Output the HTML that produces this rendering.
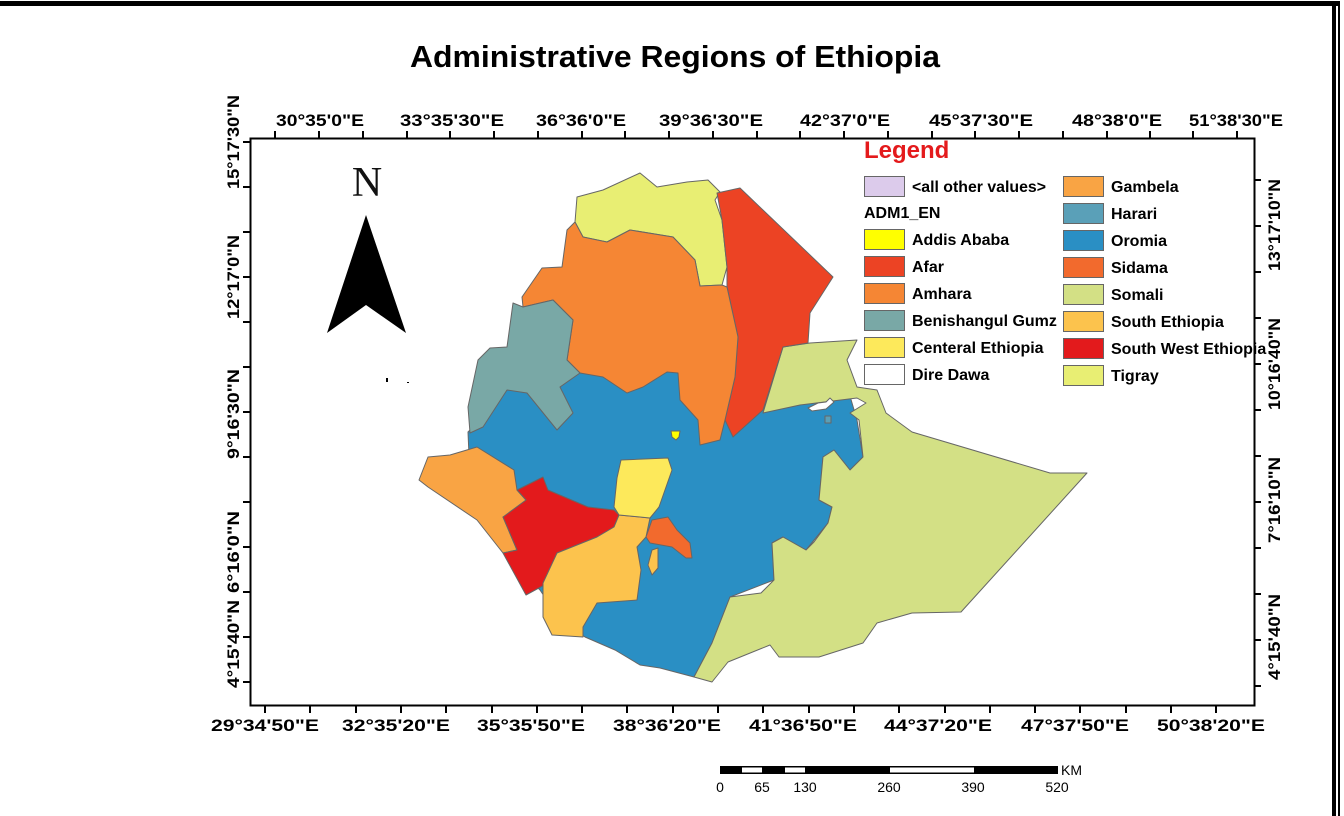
<!DOCTYPE html>
<html><head><meta charset="utf-8"><style>
html,body{margin:0;padding:0;background:#fff;}
svg{display:block;}
text{font-family:"Liberation Sans",Arial,sans-serif;}
.t{font-size:17px;font-weight:bold;fill:#000;}
.lg{font-size:16px;font-weight:bold;fill:#000;}
</style></head><body>
<svg width="1344" height="816" viewBox="0 0 1344 816" xmlns="http://www.w3.org/2000/svg">
<rect width="1344" height="816" fill="#fff"/>
<rect x="0" y="1" width="1340" height="5" fill="#000"/>
<rect x="1332" y="1" width="4" height="815" fill="#000"/>
<rect x="1338" y="1" width="2" height="815" fill="#000"/>

<text x="675" y="67" text-anchor="middle" textLength="530" lengthAdjust="spacingAndGlyphs" style="font-size:31px;font-weight:bold">Administrative Regions of Ethiopia</text>

<rect x="250.5" y="138.5" width="1004" height="567" fill="none" stroke="#000" stroke-width="2"/>
<g stroke="#000" stroke-width="2">
<path d="M275 138v-7M319 138v-7M363 138v-7M407 138v-7M450 138v-7M494 138v-7M538 138v-7M582 138v-7M625 138v-7M669 138v-7M713 138v-7M757 138v-7M800 138v-7M844 138v-7M888 138v-7M932 138v-7M975 138v-7M1019 138v-7M1063 138v-7M1107 138v-7M1150 138v-7M1193 138v-7M1237 138v-7"/>
<path d="M265 706v7M310 706v7M356 706v7M401 706v7M446 706v7M492 706v7M537 706v7M582 706v7M627 706v7M673 706v7M718 706v7M763 706v7M809 706v7M854 706v7M899 706v7M945 706v7M990 706v7M1035 706v7M1080 706v7M1126 706v7M1171 706v7M1216 706v7"/>
<path d="M250 142h-7M250 187h-7M250 232h-7M250 277h-7M250 322h-7M250 367h-7M250 412h-7M250 457h-7M250 502h-7M250 547h-7M250 592h-7M250 637h-7M250 682h-7"/>
<path d="M1254 180h7M1254 226h7M1254 272h7M1254 318h7M1254 364h7M1254 410h7M1254 456h7M1254 502h7M1254 548h7M1254 594h7M1254 640h7M1254 686h7"/>
</g>
<g text-anchor="middle">
<text x="320" y="126" class="t" textLength="88" lengthAdjust="spacingAndGlyphs">30°35'0"E</text>
<text x="452" y="126" class="t" textLength="104" lengthAdjust="spacingAndGlyphs">33°35'30"E</text>
<text x="581" y="126" class="t" textLength="90" lengthAdjust="spacingAndGlyphs">36°36'0"E</text>
<text x="711" y="126" class="t" textLength="104" lengthAdjust="spacingAndGlyphs">39°36'30"E</text>
<text x="845" y="126" class="t" textLength="90" lengthAdjust="spacingAndGlyphs">42°37'0"E</text>
<text x="981" y="126" class="t" textLength="104" lengthAdjust="spacingAndGlyphs">45°37'30"E</text>
<text x="1117" y="126" class="t" textLength="90" lengthAdjust="spacingAndGlyphs">48°38'0"E</text>
<text x="1236" y="126" class="t" textLength="94" lengthAdjust="spacingAndGlyphs">51°38'30"E</text>
</g>
<g text-anchor="middle">
<text x="265" y="731" class="t" textLength="108" lengthAdjust="spacingAndGlyphs">29°34'50"E</text>
<text x="396" y="731" class="t" textLength="108" lengthAdjust="spacingAndGlyphs">32°35'20"E</text>
<text x="531" y="731" class="t" textLength="108" lengthAdjust="spacingAndGlyphs">35°35'50"E</text>
<text x="667" y="731" class="t" textLength="108" lengthAdjust="spacingAndGlyphs">38°36'20"E</text>
<text x="803" y="731" class="t" textLength="108" lengthAdjust="spacingAndGlyphs">41°36'50"E</text>
<text x="938" y="731" class="t" textLength="108" lengthAdjust="spacingAndGlyphs">44°37'20"E</text>
<text x="1075" y="731" class="t" textLength="108" lengthAdjust="spacingAndGlyphs">47°37'50"E</text>
<text x="1211" y="731" class="t" textLength="108" lengthAdjust="spacingAndGlyphs">50°38'20"E</text>
</g>
<g text-anchor="middle">
<text class="t" transform="translate(239,142) rotate(-90)" textLength="94" lengthAdjust="spacingAndGlyphs">15°17'30"N</text>
<text class="t" transform="translate(239,277) rotate(-90)" textLength="84" lengthAdjust="spacingAndGlyphs">12°17'0"N</text>
<text class="t" transform="translate(239,414) rotate(-90)" textLength="90" lengthAdjust="spacingAndGlyphs">9°16'30"N</text>
<text class="t" transform="translate(239,552) rotate(-90)" textLength="82" lengthAdjust="spacingAndGlyphs">6°16'0"N</text>
<text class="t" transform="translate(239,644) rotate(-90)" textLength="88" lengthAdjust="spacingAndGlyphs">4°15'40"N</text>
<text class="t" transform="translate(1280,225) rotate(-90)" textLength="92" lengthAdjust="spacingAndGlyphs">13°17'10"N</text>
<text class="t" transform="translate(1280,364) rotate(-90)" textLength="92" lengthAdjust="spacingAndGlyphs">10°16'40"N</text>
<text class="t" transform="translate(1280,500) rotate(-90)" textLength="86" lengthAdjust="spacingAndGlyphs">7°16'10"N</text>
<text class="t" transform="translate(1280,637) rotate(-90)" textLength="86" lengthAdjust="spacingAndGlyphs">4°15'40"N</text>
</g>

<text x="367" y="196" text-anchor="middle" style="font-family:'Liberation Serif',serif;font-size:42px;fill:#111">N</text>
<path d="M366 215 L406 333 L366 305 L327 333 Z" fill="#000"/>
<rect x="386" y="378" width="2" height="4" fill="#000"/>
<rect x="407" y="382" width="2" height="1" fill="#000"/>

<g stroke="#666" stroke-width="1" stroke-linejoin="round">
<path fill="#2a8fc4" d="M468 432 L480 420 L497 392 L515 386 L560 378 L600 366 L740 360 L765 398 L800 398 L850 396 L857 420 L863 457 L850 470 L834 450 L823 457 L819 500 L832 507 L828 523 L806 550 L783 537 L772 543 L774 580 L730 597 L712 643 L694 677 L660 668 L640 665 L615 650 L585 637 L560 620 L540 590 L505 555 L470 480 Z"/>
<path fill="#d3e085" d="M763 413 L783 347 L810 343 L857 340 L847 360 L857 387 L877 390 L886 413 L912 432 L1050 473 L1087 473 L961 612 L912 613 L877 623 L863 643 L819 657 L779 657 L770 645 L728 662 L712 682 L694 677 L712 643 L730 597 L761 593 L774 580 L772 543 L783 537 L806 550 L814 542 L828 523 L832 507 L819 500 L823 457 L834 450 L850 470 L863 457 L859 420 L850 413 L866 403 L857 398 L800 405 Z"/>
<path fill="#e8ee73" d="M577 197 L603 190 L640 173 L657 187 L687 182 L708 180 L720 192 L715 200 L722 220 L727 267 L722 285 L700 286 L695 260 L673 237 L630 230 L607 242 L583 237 L575 222 Z"/>
<path fill="#ec4324" d="M717 193 L740 188 L833 277 L810 313 L808 343 L783 347 L763 410 L733 437 L725 420 L735 377 L738 337 L727 287 L727 267 L722 220 Z"/>
<path fill="#f58634" d="M575 222 L583 237 L607 242 L630 230 L673 237 L695 260 L700 286 L722 285 L727 287 L738 337 L735 377 L725 420 L720 440 L700 445 L698 420 L680 400 L678 373 L667 372 L643 387 L627 393 L603 377 L580 373 L567 360 L573 320 L553 300 L523 307 L522 297 L542 268 L562 267 L567 230 Z"/>
<path fill="#79a8a6" d="M523 307 L553 300 L573 320 L567 360 L580 373 L560 387 L573 413 L557 430 L527 393 L507 390 L483 427 L470 433 L468 407 L478 360 L490 348 L507 347 L513 303 Z"/>
<path fill="#f9a444" d="M419 480 L428 457 L450 455 L477 447 L514 470 L517 490 L526 500 L517 513 L503 517 L517 550 L503 553 L477 520 L428 487 Z"/>
<path fill="#e31a1c" d="M517 490 L543 477 L548 490 L588 507 L614 510 L619 515 L614 527 L597 537 L557 553 L548 583 L526 595 L503 553 L517 550 L503 517 L526 500 Z"/>
<path fill="#fcc34d" d="M619 515 L650 518 L646 537 L637 547 L641 570 L637 600 L597 603 L583 627 L583 637 L552 635 L543 617 L543 583 L557 553 L597 537 L614 527 Z"/>
<path fill="#fcc34d" d="M652 550 L658 548 L658 568 L652 575 L648 565 Z"/>
<path fill="#fde95b" d="M621 460 L668 458 L672 470 L659 507 L650 518 L619 515 L614 507 L617 478 Z"/>
<path fill="#f26a2d" d="M652 520 L668 517 L677 530 L690 543 L692 558 L686 558 L672 547 L650 543 L646 537 Z"/>
<path fill="#ffff00" d="M671 431 L680 431 L679 437 L676 440 L672 437 Z"/>
<path fill="#ffffff" d="M808 408 L818 403 L826 402 L830 398 L834 402 L826 409 L812 411 Z"/>
<path fill="#5aa0b8" d="M825 416 L831 416 L831 423 L825 423 Z"/>
</g>

<text x="864" y="158" style="font-size:24px;font-weight:bold;fill:#e41a1c">Legend</text>
<g stroke="#666" stroke-width="1">
<rect x="864.5" y="176.5" width="40" height="20" fill="#dccbeb"/>
<rect x="864.5" y="229.5" width="40" height="20" fill="#ffff00"/>
<rect x="864.5" y="256.5" width="40" height="20" fill="#ec4324"/>
<rect x="864.5" y="283.5" width="40" height="20" fill="#f58634"/>
<rect x="864.5" y="310.5" width="40" height="20" fill="#79a8a6"/>
<rect x="864.5" y="337.5" width="40" height="20" fill="#fde95b"/>
<rect x="864.5" y="364.5" width="40" height="20" fill="#ffffff"/>
<rect x="1063.5" y="176.5" width="40" height="20" fill="#f9a444"/>
<rect x="1063.5" y="203.5" width="40" height="20" fill="#5aa0b8"/>
<rect x="1063.5" y="230.5" width="40" height="20" fill="#2a8fc4"/>
<rect x="1063.5" y="257.5" width="40" height="20" fill="#f26a2d"/>
<rect x="1063.5" y="284.5" width="40" height="20" fill="#d3e085"/>
<rect x="1063.5" y="311.5" width="40" height="20" fill="#fcc34d"/>
<rect x="1063.5" y="338.5" width="40" height="20" fill="#e31a1c"/>
<rect x="1063.5" y="365.5" width="40" height="20" fill="#e8ee73"/>
</g>
<g>
<text x="912" y="192" class="lg" textLength="134" lengthAdjust="spacingAndGlyphs">&lt;all other values&gt;</text>
<text x="864" y="218" class="lg">ADM1_EN</text>
<text x="912" y="245" class="lg">Addis Ababa</text>
<text x="912" y="272" class="lg">Afar</text>
<text x="912" y="299" class="lg">Amhara</text>
<text x="912" y="326" class="lg">Benishangul Gumz</text>
<text x="912" y="353" class="lg">Centeral  Ethiopia</text>
<text x="912" y="380" class="lg">Dire Dawa</text>
<text x="1111" y="192" class="lg">Gambela</text>
<text x="1111" y="219" class="lg">Harari</text>
<text x="1111" y="246" class="lg">Oromia</text>
<text x="1111" y="273" class="lg">Sidama</text>
<text x="1111" y="300" class="lg">Somali</text>
<text x="1111" y="327" class="lg">South Ethiopia</text>
<text x="1111" y="354" class="lg">South West Ethiopia</text>
<text x="1111" y="381" class="lg">Tigray</text>
</g>

<rect x="720" y="766" width="338" height="8" fill="#000"/>
<rect x="742" y="767.5" width="20" height="5" fill="#fff"/>
<rect x="785" y="767.5" width="20" height="5" fill="#fff"/>
<rect x="890" y="767.5" width="84" height="5" fill="#fff"/>
<text x="1061" y="775" style="font-size:14px;fill:#000">KM</text>
<g style="font-size:14px;fill:#000" text-anchor="middle">
<text x="720" y="792">0</text>
<text x="762" y="792">65</text>
<text x="805" y="792">130</text>
<text x="889" y="792">260</text>
<text x="973" y="792">390</text>
<text x="1057" y="792">520</text>
</g>
</svg>
</body></html>
